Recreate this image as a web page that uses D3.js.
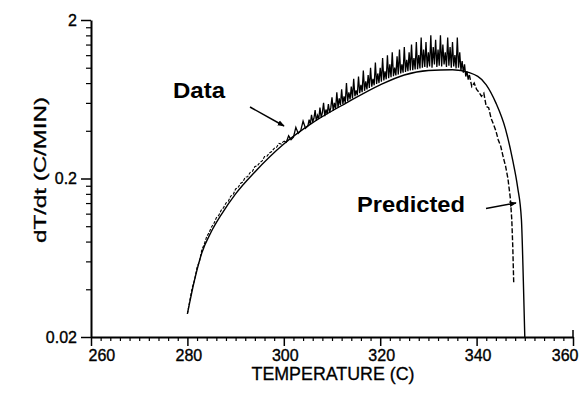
<!DOCTYPE html>
<html>
<head>
<meta charset="utf-8">
<script src="https://cdn.jsdelivr.net/npm/d3@7"></script>
<style>
  html, body { margin: 0; padding: 0; background: #fff; }
  svg { display: block; font-family: "Liberation Sans", Arial, sans-serif; }
</style>
</head>
<body>
<svg id="chart" width="582" height="401"></svg>
<script>
// ---- data ----
const xMajorTicks = [260, 280, 300, 320, 340, 360];
const xMinorTicks = [262,264,266,268,270,272,274,276,278,282,284,286,288,290,292,294,296,298,
  302,304,306,308,310,312,314,316,318,322,324,326,328,330,332,334,336,338,342,344,346,348,350,352,354,356,358];
const yMajorTicks = [0.02, 0.2, 2];
const yTickLabels = ["0.02", "0.2", "2"];
const yMinorTicks = [0.04,0.06,0.08,0.1,0.12,0.14,0.16,0.18,0.4,0.6,0.8,1.0,1.2,1.4,1.6,1.8];

// Predicted (smooth model curve)
const predT = [280, 281.5, 283, 285, 287, 290, 294, 300, 306, 313, 320, 325, 330, 335, 338.5, 342, 344, 346, 347.5, 348.5, 349.3, 349.7, 350];
const predV = [0.028, 0.046, 0.068, 0.093, 0.118, 0.16, 0.22, 0.33, 0.45, 0.60, 0.78, 0.90, 0.96, 0.97, 0.93, 0.78, 0.60, 0.41, 0.26, 0.177, 0.11, 0.045, 0.02];

// Measured data (noisy)
const dataT = [280,280.5,281,281.5,282,282.5,283,283.5,284,284.5,285,285.5,286,286.5,287,287.5,288,288.5,289,289.5,
  290,290.5,291,291.5,292,292.5,293,293.5,294,294.5,295,295.5,296,296.5,297,297.5,298,298.5,299,299.5,
  300,300.5,301,301.5,302,302.5,303,303.5,304,304.5,
  305,305.25,305.5,305.75,306,306.25,306.5,306.75,307,307.25,307.5,307.75,308,308.25,308.5,308.75,309,309.25,309.5,309.75,
  310,310.25,310.5,310.75,311,311.25,311.5,311.75,312,312.25,312.5,312.75,313,313.25,313.5,313.75,314,314.25,314.5,314.75,
  315,315.25,315.5,315.75,316,316.25,316.5,316.75,317,317.25,317.5,317.75,318,318.25,318.5,318.75,319,319.25,319.5,319.75,
  320,320.25,320.5,320.75,321,321.25,321.5,321.75,322,322.25,322.5,322.75,323,323.25,323.5,323.75,324,324.25,324.5,324.75,
  325,325.25,325.5,325.75,326,326.25,326.5,326.75,327,327.25,327.5,327.75,328,328.25,328.5,328.75,329,329.25,329.5,329.75,
  330,330.25,330.5,330.75,331,331.25,331.5,331.75,332,332.25,332.5,332.75,333,333.25,333.5,333.75,334,334.25,334.5,334.75,
  335,335.25,335.5,335.75,336,336.25,336.5,336.75,337,337.25,337.5,337.75,338,338.25,338.5,
  339,339.5,340,340.5,341,341.5,342,342.5,343,343.5,344,344.5,345,345.5,346,346.5,347,347.3,347.5,347.7];
const dataV = [0.028,0.034,0.041,0.046,0.055,0.060,0.071,0.077,0.086,0.091,0.099,0.104,0.113,0.117,0.126,0.131,0.140,0.144,0.155,0.158,
  0.172,0.175,0.186,0.190,0.204,0.205,0.218,0.222,0.238,0.240,0.252,0.258,0.275,0.276,0.290,0.296,0.310,0.315,0.333,0.330,
  0.345,0.338,0.372,0.352,0.365,0.420,0.385,0.400,0.460,0.415,
  0.430,0.470,0.440,0.505,0.455,0.480,0.540,0.462,0.500,0.475,0.560,0.485,0.520,0.600,0.495,0.545,0.510,0.590,0.520,0.560,
  0.650,0.535,0.600,0.550,0.700,0.560,0.640,0.580,0.730,0.590,0.660,0.600,0.800,0.615,0.700,0.630,0.760,0.640,0.850,0.660,
  0.720,0.670,0.880,0.690,0.780,0.700,0.960,0.715,0.820,0.730,0.900,0.745,1.000,0.760,0.850,0.775,1.080,0.790,0.920,0.800,
  1.000,0.815,1.150,0.830,0.950,0.845,1.200,0.860,1.050,0.870,1.250,0.885,1.000,0.895,1.180,0.905,1.300,0.920,1.050,0.930,
  1.350,0.940,1.120,0.950,1.250,0.960,1.400,0.965,1.150,0.975,1.450,0.980,1.200,0.990,1.550,1.000,1.300,1.010,1.450,1.000,
  1.250,1.020,1.600,1.000,1.350,1.050,1.500,1.010,1.300,1.030,1.600,1.020,1.400,1.050,1.250,1.010,1.550,1.030,1.350,1.000,
  1.450,1.020,1.200,0.990,1.550,1.000,1.250,0.960,1.100,0.930,1.050,0.880,0.950,0.840,0.900,
  0.760,0.800,0.730,0.700,0.660,0.690,0.570,0.560,0.480,0.440,0.400,0.350,0.320,0.275,0.240,0.200,0.150,0.110,0.075,0.044];

// ---- drawing ----
const svg = d3.select("#chart");
const x = d3.scaleLinear().domain([260, 360]).range([91, 573]);
const y = d3.scaleLog().domain([0.02, 2]).range([337, 20]);
const FONT = "'Liberation Sans', Arial, sans-serif";

svg.append("rect").attr("width", 582).attr("height", 401).attr("fill", "#fff");

// arrow marker
svg.append("defs").append("marker")
  .attr("id", "arrow").attr("viewBox", "0 0 10 10")
  .attr("refX", 9).attr("refY", 5)
  .attr("markerWidth", 7).attr("markerHeight", 7)
  .attr("markerUnits", "userSpaceOnUse")
  .attr("orient", "auto")
  .append("path").attr("d", "M0,1 L10,5 L0,9 Z").attr("fill", "#000");

// x axis
const gx = svg.append("g").attr("transform", "translate(0,337)");
gx.call(d3.axisBottom(x).tickValues(xMajorTicks).tickSize(9).tickSizeOuter(0).tickPadding(4));
gx.select(".domain").attr("stroke-width", 2);
gx.selectAll(".tick line").attr("stroke-width", 1.5);
gx.selectAll(".tick text").attr("font-size", 16).attr("fill", "#000")
  .attr("stroke", "#000").attr("stroke-width", 0.35)
  .attr("font-family", FONT)
  .attr("text-anchor", d => d === 260 ? "start" : (d === 360 ? "end" : "middle"))
  .attr("dx", d => d === 260 ? -3 : (d === 360 ? 5 : 1));
const gxm = svg.append("g").attr("transform", "translate(0,337)");
gxm.call(d3.axisBottom(x).tickValues(xMinorTicks).tickSize(4).tickSizeOuter(0).tickFormat(""));
gxm.select(".domain").remove();
gxm.selectAll(".tick line").attr("stroke-width", 1.2);
// end tick at 360 extends upward a bit
svg.append("line").attr("x1", x(360)).attr("x2", x(360)).attr("y1", 330).attr("y2", 337)
  .attr("stroke", "#000").attr("stroke-width", 1.5);

// y axis
const gy = svg.append("g").attr("transform", "translate(91,0)");
gy.call(d3.axisLeft(y).tickValues(yMajorTicks).tickSize(10).tickSizeOuter(0).tickPadding(4)
  .tickFormat((d, i) => yTickLabels[i]));
gy.select(".domain").attr("stroke-width", 2);
gy.selectAll(".tick line").attr("stroke-width", 1.5);
gy.selectAll(".tick text").attr("font-size", 16).attr("fill", "#000")
  .attr("stroke", "#000").attr("stroke-width", 0.35)
  .attr("font-family", FONT);
const gym = svg.append("g").attr("transform", "translate(91,0)");
gym.call(d3.axisLeft(y).tickValues(yMinorTicks).tickSize(5).tickSizeOuter(0).tickFormat(""));
gym.select(".domain").remove();
gym.selectAll(".tick line").attr("stroke-width", 1.2);

// axis titles
svg.append("text").attr("x", 333).attr("y", 380).attr("text-anchor", "middle")
  .attr("font-size", 17.5).attr("textLength", 163).attr("lengthAdjust", "spacingAndGlyphs")
  .attr("stroke", "#000").attr("stroke-width", 0.3)
  .text("TEMPERATURE (C)");
svg.append("text").attr("transform", "translate(46,170) rotate(-90)").attr("text-anchor", "middle")
  .attr("font-size", 17).attr("textLength", 146).attr("lengthAdjust", "spacingAndGlyphs")
  .attr("stroke", "#000").attr("stroke-width", 0.3)
  .text("dT/dt (C/MIN)");

// lines
const predData = predT.map((t, i) => [t, predV[i]]);
const measData = dataT.map((t, i) => [t, dataV[i]]);
const lineGen = d3.line().x(d => x(d[0])).y(d => y(d[1]));

svg.append("path").datum(predData)
  .attr("fill", "none").attr("stroke", "#000").attr("stroke-width", 1.4)
  .attr("d", d3.line().x(d => x(d[0])).y(d => y(d[1])).curve(d3.curveMonotoneX));

// low-temperature portion: dotted look
svg.append("path").datum(measData.filter(d => d[0] <= 300))
  .attr("fill", "none").attr("stroke", "#000").attr("stroke-width", 1.1)
  .attr("stroke-dasharray", "3,1.5")
  .attr("d", lineGen);
// noisy middle portion: dense solid
svg.append("path").datum(measData.filter(d => d[0] >= 300 && d[0] <= 338.5))
  .attr("fill", "none").attr("stroke", "#000").attr("stroke-width", 1.3)
  .attr("d", lineGen);
// falling portion: dashed
svg.append("path").datum(measData.filter(d => d[0] >= 338.5))
  .attr("fill", "none").attr("stroke", "#000").attr("stroke-width", 1.4)
  .attr("stroke-dasharray", "5,2")
  .attr("d", lineGen);

// annotations
svg.append("text").attr("x", 173).attr("y", 98).attr("font-size", 22).attr("font-weight", "bold")
  .attr("textLength", 52).attr("lengthAdjust", "spacingAndGlyphs").text("Data");
svg.append("line").attr("x1", 250).attr("y1", 107).attr("x2", 284).attr("y2", 126)
  .attr("stroke", "#000").attr("stroke-width", 1.5).attr("marker-end", "url(#arrow)");

svg.append("text").attr("x", 357).attr("y", 212).attr("font-size", 22).attr("font-weight", "bold")
  .attr("textLength", 108).attr("lengthAdjust", "spacingAndGlyphs").text("Predicted");
svg.append("line").attr("x1", 486).attr("y1", 208.5).attr("x2", 516).attr("y2", 203)
  .attr("stroke", "#000").attr("stroke-width", 1.5).attr("marker-end", "url(#arrow)");
</script>
</body>
</html>
